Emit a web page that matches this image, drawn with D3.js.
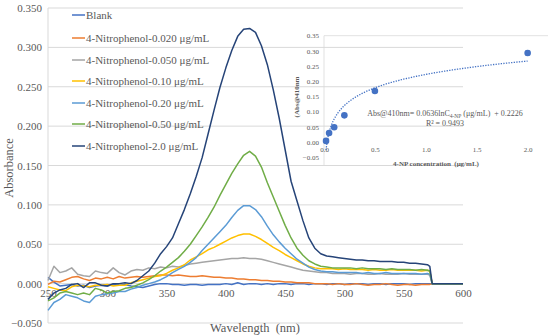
<!DOCTYPE html>
<html><head><meta charset="utf-8">
<script src="https://cdn.jsdelivr.net/npm/d3@7"></script>
<style>body{margin:0;background:#fff}svg{display:block}svg text{font-family:"Liberation Serif","Times New Roman","DejaVu Serif",serif !important}</style>
</head><body><svg id="c" width="550" height="336" font-family="Liberation Serif, Times New Roman, serif"></svg>
<script>
const wavelengths = [250,255,260,265,270,275,280,285,290,295,300,305,310,315,320,325,330,335,340,345,350,355,360,365,370,375,380,385,390,395,400,405,410,415,420,425,430,435,440,445,450,455,460,465,470,475,480,485,490,495,500,505,510,515,520,525,530,535,540,545,550,555,560,565,570,572,574,600];
const seriesNames = ["Blank","4-Nitrophenol-0.020 μg/mL","4-Nitrophenol-0.050 μg/mL","4-Nitrophenol-0.10 μg/mL","4-Nitrophenol-0.20 μg/mL","4-Nitrophenol-0.50 μg/mL","4-Nitrophenol-2.0 μg/mL"];
const blank = [0.008,0.002,-0.003,-0.002,-0.001,-0.003,-0.002,-0.005,-0.003,-0.002,-0.003,-0.001,-0.002,-0.001,-0.003,-0.004,-0.005,-0.003,-0.001,0.000,0.000,-0.001,-0.001,-0.002,-0.001,-0.001,-0.002,-0.001,-0.001,-0.001,0.000,-0.001,0.001,-0.001,0.000,0.000,-0.001,0.000,-0.001,0.000,0.000,-0.001,0.000,0.000,-0.001,0.000,0.000,-0.001,0.000,0.000,-0.001,0.000,0.000,0.000,-0.001,0.000,0.000,-0.001,0.000,0.000,0.000,-0.001,0.000,0.000,0.000,0.000,0,0];
const np020 = [-0.001,0.003,0.002,0.005,0.008,0.009,0.006,0.004,0.007,0.006,0.008,0.006,0.009,0.007,0.008,0.009,0.008,0.009,0.010,0.011,0.011,0.010,0.011,0.010,0.009,0.009,0.010,0.009,0.008,0.008,0.007,0.007,0.006,0.006,0.005,0.005,0.004,0.004,0.003,0.003,0.002,0.002,0.001,0.001,0.001,0.000,0.000,0.000,-0.001,0.000,-0.001,-0.001,0.000,-0.001,-0.002,-0.001,-0.001,0.000,-0.001,-0.002,-0.001,-0.001,-0.002,-0.001,-0.001,-0.001,0,0];
const np050 = [0.004,0.022,0.014,0.016,0.020,0.012,0.010,0.009,0.016,0.014,0.013,0.020,0.014,0.011,0.016,0.018,0.017,0.020,0.019,0.021,0.020,0.022,0.021,0.023,0.025,0.026,0.027,0.028,0.029,0.030,0.031,0.032,0.032,0.033,0.032,0.032,0.031,0.029,0.027,0.025,0.023,0.021,0.019,0.017,0.016,0.015,0.014,0.014,0.013,0.013,0.013,0.012,0.013,0.013,0.012,0.012,0.013,0.012,0.012,0.012,0.013,0.012,0.012,0.012,0.012,0.011,0,0];
const np010 = [-0.004,-0.006,-0.008,-0.009,-0.004,-0.002,-0.003,-0.004,-0.002,-0.002,-0.001,-0.003,-0.002,-0.002,0.001,0.003,0.005,0.007,0.009,0.010,0.013,0.017,0.020,0.024,0.030,0.034,0.038,0.043,0.046,0.050,0.054,0.058,0.061,0.063,0.063,0.060,0.056,0.051,0.046,0.042,0.037,0.033,0.029,0.025,0.022,0.020,0.019,0.019,0.019,0.018,0.019,0.018,0.018,0.018,0.017,0.018,0.017,0.017,0.018,0.017,0.017,0.017,0.017,0.016,0.017,0.016,0,0];
const np020b = [-0.034,-0.024,-0.020,-0.014,-0.016,-0.018,-0.022,-0.024,-0.016,-0.014,-0.013,-0.012,-0.010,-0.010,-0.007,-0.005,-0.002,0.000,0.002,0.005,0.009,0.014,0.018,0.022,0.027,0.033,0.042,0.050,0.058,0.066,0.074,0.084,0.093,0.099,0.099,0.094,0.085,0.073,0.062,0.053,0.045,0.038,0.031,0.026,0.021,0.018,0.016,0.015,0.015,0.014,0.014,0.014,0.014,0.013,0.014,0.013,0.013,0.014,0.013,0.013,0.013,0.013,0.013,0.012,0.013,0.012,0,0];
const np050b = [-0.022,-0.018,-0.012,-0.010,-0.012,-0.014,-0.012,-0.014,-0.006,-0.008,-0.012,-0.010,-0.009,-0.006,-0.005,-0.002,0.001,0.005,0.010,0.016,0.021,0.027,0.033,0.041,0.050,0.061,0.072,0.084,0.097,0.112,0.126,0.140,0.152,0.163,0.168,0.162,0.148,0.128,0.110,0.092,0.074,0.058,0.045,0.036,0.029,0.025,0.022,0.021,0.020,0.020,0.020,0.020,0.019,0.020,0.019,0.019,0.019,0.018,0.019,0.018,0.018,0.018,0.017,0.018,0.017,0.016,0,0];
const np200 = [-0.020,-0.012,-0.008,-0.006,-0.001,0.000,-0.005,0.001,0.001,-0.002,-0.003,0.000,0.000,0.001,0.000,0.004,0.010,0.016,0.026,0.038,0.047,0.058,0.076,0.094,0.114,0.136,0.160,0.190,0.220,0.249,0.274,0.296,0.314,0.323,0.324,0.319,0.302,0.278,0.246,0.210,0.170,0.130,0.105,0.080,0.058,0.045,0.038,0.035,0.034,0.033,0.032,0.031,0.030,0.030,0.029,0.029,0.028,0.028,0.028,0.027,0.027,0.026,0.026,0.025,0.024,0.022,0,0];
const seriesValues = [blank, np020, np050, np010, np020b, np050b, np200];
const colors = ["#4472C4","#ED7D31","#A5A5A5","#FFC000","#5B9BD5","#70AD47","#264478"];
const yTicks = [-0.05,0,0.05,0.1,0.15,0.2,0.25,0.3,0.35];
const xTicks = [250,300,350,400,450,500,550,600];

// inset data
const conc = [0.02,0.05,0.1,0.2,0.5,2.0];
const absAt410 = [0.004,0.030,0.049,0.088,0.168,0.293];
const absErr = [0.002,0.002,0.002,0.002,0.003,0.007];
const fitSlope = 0.0636, fitIntercept = 0.2226;
const insetYTicks = [-0.05,0,0.05,0.1,0.15,0.2,0.25,0.3,0.35];
const insetXTicks = [0,0.5,1.0,1.5,2.0];

const FONT = "Liberation Serif, Times New Roman, serif";
const svg = d3.select("#c");
const x = d3.scaleLinear().domain([250,600]).range([48,463]);
const y = d3.scaleLinear().domain([-0.05,0.35]).range([323,8]);
const txt = "#595959", grid = "#d9d9d9";

const g = svg.append("g");
g.selectAll(".gl").data(yTicks).join("line")
  .attr("x1",48).attr("x2",463).attr("y1",d=>y(d)).attr("y2",d=>y(d))
  .attr("stroke",grid).attr("stroke-width",1);
g.append("line").attr("x1",48).attr("x2",48).attr("y1",8).attr("y2",323).attr("stroke",grid);

const yAx = d3.axisLeft(y).tickValues(yTicks).tickFormat(d3.format(".3f")).tickSize(0).tickPadding(6);
svg.append("g").attr("transform","translate(48,0)").call(yAx).attr("font-family",FONT)
  .call(a=>a.select(".domain").remove())
  .selectAll("text").attr("font-size",11).attr("fill",txt);
const xAx = d3.axisBottom(x).tickValues(xTicks).tickFormat(d3.format("d")).tickSize(0).tickPadding(6);
svg.append("g").attr("transform",`translate(0,${y(0)})`).call(xAx).attr("font-family",FONT)
  .call(a=>a.select(".domain").remove())
  .selectAll("text").attr("font-size",11).attr("fill",txt);

const line = d3.line().x((d,i)=>x(wavelengths[i])).y(d=>y(d));
svg.append("g").selectAll("path").data(seriesValues).join("path")
  .attr("d",d=>line(d)).attr("fill","none").attr("stroke",(d,i)=>colors[i])
  .attr("stroke-width",1.5).attr("stroke-linejoin","round");

svg.append("text").attr("x",255).attr("y",332).attr("text-anchor","middle").attr("font-size",12.5).attr("fill",txt).text("Wavelength\u00a0\u00a0(nm)");
svg.append("text").attr("transform","translate(13,168) rotate(-90)").attr("text-anchor","middle").attr("font-size",12.5).attr("fill",txt).text("Absorbance");

const lg = svg.append("g");
const legY = [15,38,60,81,103,124,146];
seriesNames.forEach((n,i)=>{
  lg.append("line").attr("x1",72).attr("x2",85).attr("y1",legY[i]).attr("y2",legY[i]).attr("stroke",colors[i]).attr("stroke-width",1.5);
  lg.append("text").attr("x",86).attr("y",legY[i]+3.8).attr("font-size",11).attr("fill",txt).text(n);
});

const ix = d3.scaleLinear().domain([0,2.2]).range([324,548]);
const iy = d3.scaleLinear().domain([-0.05,0.35]).range([157.3,35.7]);
const ig = svg.append("g");
ig.append("line").attr("x1",324).attr("x2",548).attr("y1",iy(0.35)).attr("y2",iy(0.35)).attr("stroke",grid).attr("stroke-width",0.8);
ig.append("line").attr("x1",324).attr("x2",324).attr("y1",35.7).attr("y2",166).attr("stroke",grid).attr("stroke-width",0.8);
ig.append("g").attr("transform","translate(324,0)")
  .call(d3.axisLeft(iy).tickValues(insetYTicks).tickFormat(d3.format(".2f")).tickSize(0).tickPadding(5)).attr("font-family",FONT)
  .call(a=>a.select(".domain").remove())
  .selectAll("text").attr("font-size",7).attr("fill",txt);
ig.append("g").attr("transform",`translate(0,${iy(0)})`)
  .call(d3.axisBottom(ix).tickValues(insetXTicks).tickFormat(d3.format(".1f")).tickSize(0).tickPadding(5)).attr("font-family",FONT)
  .call(a=>a.select(".domain").remove())
  .selectAll("text").attr("font-size",7).attr("fill",txt);
const trendX = d3.range(0.02,2.0001,0.01);
ig.append("path").attr("d",d3.line().x(d=>ix(d)).y(d=>iy(fitSlope*Math.log(d)+fitIntercept))(trendX))
  .attr("fill","none").attr("stroke","#4472C4").attr("stroke-width",1.3).attr("stroke-dasharray","1.3,1.3");
conc.forEach((c,i)=>{
  ig.append("line").attr("x1",ix(c)).attr("x2",ix(c)).attr("y1",iy(absAt410[i]-absErr[i])).attr("y2",iy(absAt410[i]+absErr[i])).attr("stroke","#404040").attr("stroke-width",0.8);
  [-1,1].forEach(s=>ig.append("line").attr("x1",ix(c)-2).attr("x2",ix(c)+2).attr("y1",iy(absAt410[i]+s*absErr[i])).attr("y2",iy(absAt410[i]+s*absErr[i])).attr("stroke","#404040").attr("stroke-width",0.8));
});
ig.selectAll("circle").data(conc).join("circle").attr("cx",d=>ix(d)).attr("cy",(d,i)=>iy(absAt410[i])).attr("r",3.3).attr("fill","#4472C4");
const eq = ig.append("text").attr("x",445).attr("y",116).attr("text-anchor","middle").attr("font-size",8).attr("fill",txt);
eq.append("tspan").text("Abs@410nm= 0.0636lnC");
eq.append("tspan").attr("font-size",5.5).attr("dy",1.5).text("4-NP");
eq.append("tspan").attr("dy",-1.5).text("\u00a0(μg/mL)\u00a0\u00a0+ 0.2226");
ig.append("text").attr("x",445).attr("y",126).attr("text-anchor","middle").attr("font-size",8).attr("fill",txt).text("R² = 0.9493");
ig.append("text").attr("x",436).attr("y",166).attr("text-anchor","middle").attr("font-size",7).attr("font-weight","bold").attr("fill",txt).text("4-NP concentration\u00a0\u00a0(μg/mL)");
ig.append("text").attr("transform","translate(299,97) rotate(-90)").attr("text-anchor","middle").attr("font-size",7).attr("font-weight","bold").attr("fill",txt).text("(Abs@410nm");
</script></body></html>
